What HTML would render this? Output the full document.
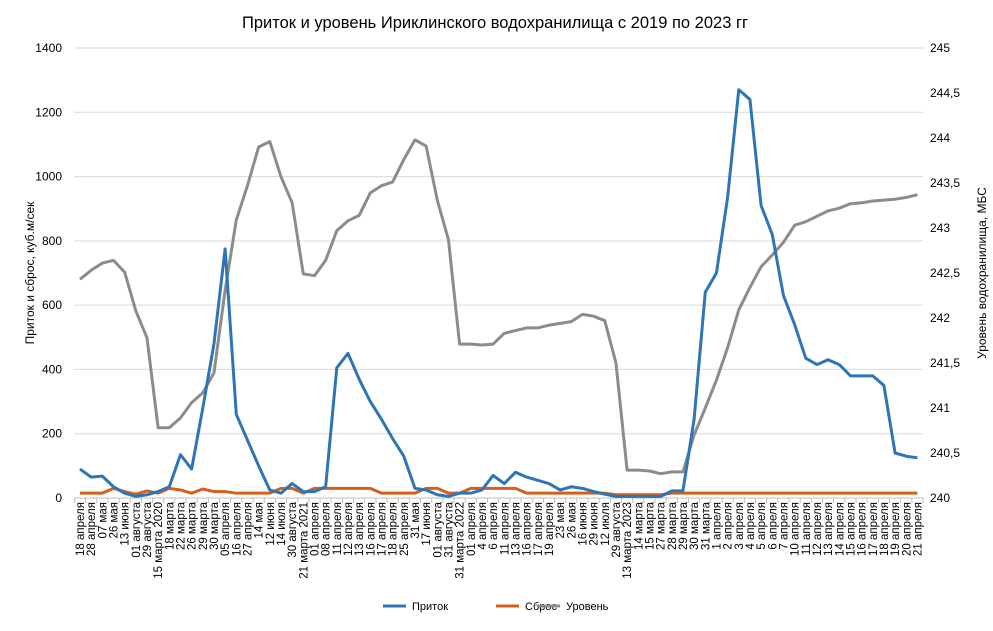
<!DOCTYPE html>
<html><head><meta charset="utf-8"><style>
body{margin:0;background:#fff;font-family:"Liberation Sans",sans-serif}
svg text{font-family:"Liberation Sans","DejaVu Sans",sans-serif;fill:#000}
</style></head><body>
<svg id="c" width="993" height="626" xmlns="http://www.w3.org/2000/svg"></svg>
<script>
const categories=["18 апреля","28 апреля","07 мая","26 мая","13 июня","01 августа","29 августа","15 марта 2020","18 марта","22 марта","26 марта","29 марта","30 марта","05 апреля","16 апреля","27 апреля","14 мая","12 июня","14 июля","30 августа","21 марта 2021","01 апреля","08 апреля","11 апреля","12 апреля","13 апреля","16 апреля","17 апреля","18 апреля","25 апреля","31 мая","17 июня","01 августа","31 августа","31 марта 2022","01 апреля","4 апреля","6 апреля","11 апреля","13 апреля","16 апреля","17 апреля","19 апреля","23 мая","26 мая","16 июня","29 июня","12 июля","29 августа","13 марта 2023","14 марта","15 марта","27 марта","28 марта","29 марта","30 марта","31 марта","1 апреля","2 апреля","3 апреля","4 апреля","5 апреля","6 апреля","7 апреля","10 апреля","11 апреля","12 апреля","13 апреля","14 апреля","15 апреля","16 апреля","17 апреля","18 апреля","19 апреля","20 апреля","21 апреля"];
const inflow=[90,65,68,35,15,5,10,20,35,135,90,280,480,775,260,180,100,25,15,45,20,20,35,405,450,370,300,245,185,130,30,25,10,5,15,15,25,70,45,80,65,55,45,25,35,30,20,12,5,5,5,5,5,22,22,245,640,700,935,1270,1240,910,820,630,540,435,415,430,415,380,380,380,350,140,130,125];
const outflow=[15,15,15,30,20,12,22,15,30,25,15,28,20,20,15,15,15,15,30,30,15,30,30,30,30,30,30,15,15,15,15,30,30,15,15,30,30,30,30,30,15,15,15,15,15,15,15,15,10,10,10,10,10,15,15,15,15,15,15,15,15,15,15,15,15,15,15,15,15,15,15,15,15,15,15,15];
const level=[242.43,242.53,242.61,242.64,242.51,242.08,241.78,240.78,240.78,240.89,241.06,241.17,241.39,242.31,243.09,243.47,243.9,243.96,243.57,243.28,242.49,242.47,242.64,242.97,243.08,243.14,243.39,243.47,243.51,243.76,243.98,243.91,243.31,242.87,241.71,241.71,241.7,241.71,241.83,241.86,241.89,241.89,241.92,241.94,241.96,242.04,242.02,241.97,241.5,240.31,240.31,240.3,240.27,240.29,240.29,240.7,241.0,241.31,241.67,242.09,242.34,242.57,242.7,242.84,243.03,243.07,243.13,243.19,243.22,243.27,243.28,243.3,243.31,243.32,243.34,243.37];
const leftTicks=[0,200,400,600,800,1000,1200,1400];
const rightTicks=["240","240,5","241","241,5","242","242,5","243","243,5","244","244,5","245"];
const NS="http://www.w3.org/2000/svg",svg=document.getElementById("c");
const X0=74.4,X1=923,Y0=498,Y1=48;
const bw=(X1-X0)/categories.length;
const x=i=>X0+bw*(i+0.5);
const yL=v=>Y0-(v/1400)*(Y0-Y1);
const yR=v=>Y0-((v-240)/5)*(Y0-Y1);
function mk(t,a,p){const e=document.createElementNS(NS,t);for(const k in a)e.setAttribute(k,a[k]);(p||svg).appendChild(e);return e;}
let t=mk("text",{x:495,y:28,"text-anchor":"middle","font-size":"16.5"});t.textContent="Приток и уровень Ириклинского водохранилища с 2019 по 2023 гг";


leftTicks.forEach(v=>{
 const g=mk("line",{x1:X0,x2:X1,y1:yL(v),y2:yL(v),stroke:v?"#d9d9d9":"#bfbfbf","stroke-width":1});
 
 
 const l=mk("text",{x:62,y:yL(v)+4,"text-anchor":"end","font-size":"12"});l.textContent=v;
 
 
});
rightTicks.forEach((s,k)=>{
 const l=mk("text",{x:930,y:Y0-k*(Y0-Y1)/10+4,"font-size":"12"});l.textContent=s;
 
 
});
for(let i=0;i<=categories.length;i++){
 const tk=mk("line",{x1:X0+bw*i,x2:X0+bw*i,y1:Y0,y2:Y0+5,stroke:"#bfbfbf"});
 
 
}
categories.forEach((c,i)=>{
 const l=mk("text",{transform:`translate(${x(i)+4},502) rotate(-90)`,"text-anchor":"end","font-size":"11.5"});l.textContent=c;
 
 
});
t=mk("text",{transform:"translate(34,273) rotate(-90)","text-anchor":"middle","font-size":"12"});t.textContent="Приток и сброс, куб.м/сек";


t=mk("text",{transform:"translate(986,273) rotate(-90)","text-anchor":"middle","font-size":"12"});t.textContent="Уровень водохранилища, МБС";


function line(arr,fy,col,name){
 const p=mk("polyline",{points:arr.map((v,i)=>x(i)+","+fy(v)).join(" "),fill:"none",stroke:col,"stroke-width":3,"stroke-linejoin":"round"});
 
 
}
line(level,yR,"#8c8c8c","series-level");
line(outflow,yL,"#d4601c","series-outflow");
line(inflow,yL,"#2e75b6","series-inflow");
[["Приток","#2e75b6",383],["Сброс","#d4601c",496],["Уровень","#8c8c8c",537]].forEach(([n,c,lx])=>{
 const g=mk("g",{});
 
 
 mk("line",{x1:lx,x2:lx+23,y1:606,y2:606,stroke:c,"stroke-width":3},g);
 const tt=mk("text",{x:lx+29,y:610,"font-size":"11"},g);tt.textContent=n;
});
</script>
</body></html>
